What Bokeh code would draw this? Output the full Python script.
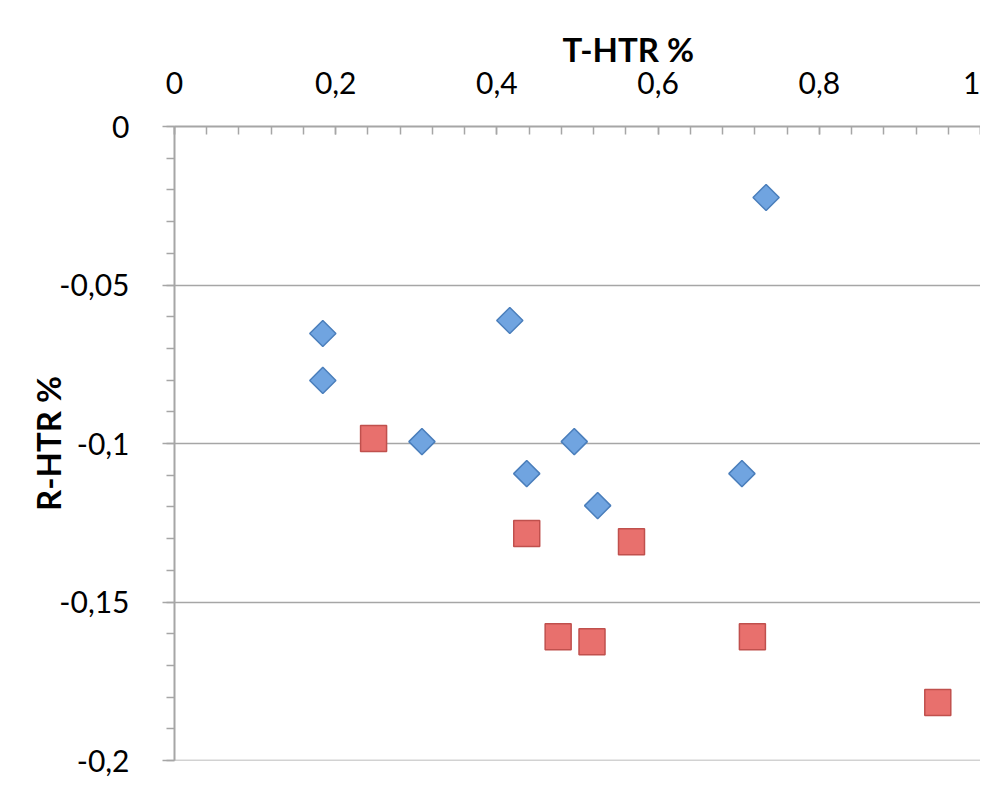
from bokeh.plotting import figure
from bokeh.models import FixedTicker, CustomJSTickFormatter, Range1d, Title, ColumnDataSource, Span
from bokeh.embed import file_html
from bokeh.resources import INLINE
import math

# Data
blue_x = [0.734, 0.184, 0.184, 0.416, 0.307, 0.437, 0.496, 0.525, 0.704]
blue_y = [-0.0224, -0.0653, -0.0801, -0.0612, -0.0994, -0.1095, -0.0994, -0.1196, -0.1095]
red_x = [0.247, 0.437, 0.567, 0.476, 0.518, 0.717, 0.947]
red_y = [-0.0984, -0.1284, -0.1310, -0.1610, -0.1625, -0.1610, -0.1817]

x_ticks = [0, 0.2, 0.4, 0.6, 0.8, 1.0]
x_minor = [round(i * 0.04, 2) for i in range(26)]
y_ticks = [-0.2, -0.15, -0.1, -0.05, 0]
y_minor = [round(-i * 0.01, 2) for i in range(21)]
x_title = "T-HTR %"
y_title = "R-HTR %"

FONT = "Lato"
GRAY = "#a6a6a6"

p = figure(width=980, height=790, output_backend="svg", toolbar_location=None,
           x_axis_location="above",
           x_range=Range1d(0, 1.0), y_range=Range1d(-0.2, 0),
           min_border_left=174, min_border_top=126, min_border_right=0,
           min_border_bottom=30)
p.outline_line_color = None
p.background_fill_color = "white"
p.border_fill_color = "white"

fmt = CustomJSTickFormatter(code="""
var v = Math.round(tick*100)/100;
if (v === 0) { v = 0; }
return v.toString().replace('.', ',');
""")

# x axis (top)
xa = p.xaxis[0]
xa.ticker = FixedTicker(ticks=x_ticks, minor_ticks=x_minor)
xa.formatter = fmt
xa.axis_line_color = GRAY
xa.axis_line_width = 2
xa.major_tick_line_color = GRAY
xa.minor_tick_line_color = GRAY
xa.major_tick_line_width = 1.5
xa.minor_tick_line_width = 1.5
xa.major_tick_in = 8
xa.major_tick_out = 0
xa.minor_tick_in = 8
xa.minor_tick_out = 0
xa.major_label_text_font = FONT
xa.major_label_text_font_size = "30px"
xa.major_label_text_color = "black"
xa.major_label_standoff = 33

# y axis
ya = p.yaxis[0]
ya.ticker = FixedTicker(ticks=y_ticks, minor_ticks=y_minor)
ya.formatter = fmt
ya.axis_line_color = GRAY
ya.axis_line_width = 2
ya.major_tick_line_color = GRAY
ya.minor_tick_line_color = GRAY
ya.major_tick_line_width = 1.5
ya.minor_tick_line_width = 1.5
ya.major_tick_out = 12
ya.major_tick_in = 0
ya.minor_tick_out = 8
ya.minor_tick_in = 0
ya.major_label_text_font = FONT
ya.major_label_text_font_size = "30px"
ya.major_label_text_color = "black"
ya.major_label_standoff = 33
ya.axis_label = y_title
ya.axis_label_text_font = FONT
ya.axis_label_text_font_style = "bold"
ya.axis_label_text_font_size = "33px"
ya.axis_label_text_color = "black"
ya.axis_label_standoff = -12

p.xgrid.visible = False
p.ygrid.ticker = FixedTicker(ticks=y_ticks)
p.ygrid.grid_line_color = GRAY
p.ygrid.grid_line_width = 1.5
p.add_layout(Span(location=y_ticks[0], dimension="width", line_color=GRAY, line_width=1.5))

blue = ColumnDataSource(dict(x=blue_x, y=blue_y))
red = ColumnDataSource(dict(x=red_x, y=red_y))

p.scatter("x", "y", source=blue, marker="square", size=18.5, angle=math.pi / 4,
          fill_color="#70a4e0", line_color="#4a7ebb", line_width=1.5)
p.scatter("x", "y", source=red, marker="square", size=26,
          fill_color="#e8706d", line_color="#c0504d", line_width=1.5)

p.add_layout(Title(text=x_title, text_font=FONT, text_font_style="bold",
                   text_font_size="33px", text_color="black",
                   align="left", offset=388, standoff=0), "above")

open("out.html", "w").write(file_html(p, INLINE))
